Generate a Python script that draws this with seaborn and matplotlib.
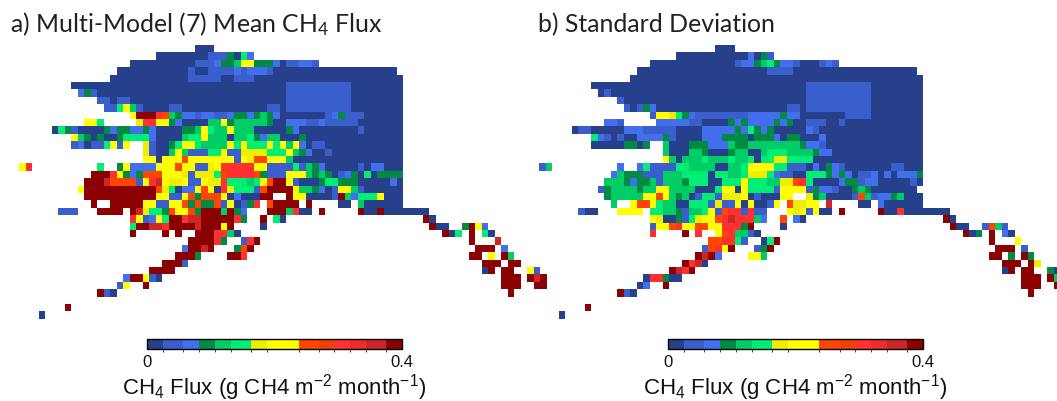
import re
import numpy as np
import pandas as pd
import seaborn as sns
import matplotlib.pyplot as plt
from matplotlib.colors import ListedColormap, BoundaryNorm

# colour classes of the flux scale (g CH4 m-2 month-1)
flux_bounds = [0, .026, .0575, .0826, .1072, .1318, .1631, .1882, .2379, .2693, .2928, .319, .3435, .3754, .4]
flux_colors = ['#27408B', '#3A5FCD', '#436EEE', '#008B45', '#00CD66', '#00EE76', '#EEEE00',
               '#FFFF00', '#FF4500', '#EE4000', '#FF3030', '#EE2C2C', '#CD2626', '#8B0000']
class_codes = 'abcdefghijklmn'

# map cells, row by row: @n jumps to column n, 3a = three cells of class a
mean_rows = [
    '@27 3a',
    '@21 8a 3b d a f c',
    '@17 10a 3b c 2d e 2h 3d c a 2b 2c b',
    '@15 11a b 2a 4b c b 3c b 19a',
    '@14 12a 5b 2a 3b 23a',
    '@8 33a 10b 8a',
    '@9 c d b 29a 10b 8a',
    '@12 2b a 2b 24a 10b 8a',
    '@13 2b f h e b 4a 2b 13a 2b a 10b 8a',
    '@17 h 3n k i e d 2c b 2c 2b c 2d c d e d c 7a b c d 3b 6a',
    '@10 2h f @18 g 2k 2h d c 4a 2e h d 5e d 2a 3c 2b c 5b 7a',
    '@5 a f d b 4a d c 2d 2c d c 4a 2d e h f 2e h 3e 4a a d c 9a b 6a',
    '@8 h e d a d 2a d 4f c 4a e 2f h 3e a 2e f d c 2e 3a d 15a',
    '@8 b c a 2b f h b h @19 g b 2a d f 2h f 4e h f h 3f h f h e h c a 2b 12a',
    '@19 g b 2a e h e 3b 2f h 2b 4g 3f h e d c 2a b 11a',
    '@19 2h a 3h i 7h b h g 2i 3h e 17a',
    '@0 h k @12 f @15 d h 4c 3h i 2h 2b g h 5k 2h 4b f b e d c 5a b a 2c 3a',
    '@11 3n k h d c d 3i 3h g b 3g f i 4k i d 3b 3h e d e d a b c d a f a 4d',
    '@10 3n m 4i b h k m h 2g h 2b h 2g k 3f e f h i 2n h b 3a d 2f 3d 5a c a',
    '@9 h 11n i g f a 2c h i h a k g 3f b i 4n h 2e d c a b 2h e b 6a',
    '@10 11n 2h 2b h i d 3i h a c 3a 2n @41 n 2h 4a b n e c 3f h 3a',
    '@11 n @14 5n 2h 2b 2h i d i 2d i b h a b d k @38 i 4n @44 n @49 2a @52 e 6a',
    '@6 3b @12 4n @17 n m g 2f d i 2h i d 3n e n d c @38 3n e k 2a @46 n @52 n 2a n 7a',
    '@17 k h b c h f 2n k 2m 5n k d @37 n @39 f a @62 n a',
    '@17 f 2n 2m k 4n m 3n h n @37 a @63 n 2a @68 d n h c',
    '@17 n @22 n @24 n @27 3n 2k e a @65 n a f @69 n @71 f a',
    '@26 4n k d @34 b k n @69 n @73 m',
    '@25 c 2n m n @33 d i n @70 3n @74 c',
    '@24 3n d @32 2n k @69 2n @72 h @74 n e',
    '@22 3n b @71 3n @75 2n',
    '@20 4n @71 a n @74 2n @78 h b',
    '@16 c 2n h b a @74 3n @78 n m n',
    '@15 b h @19 n @74 3n @79 2n',
    '@12 n b a @75 n',
    '',
    '@7 n',
    '@3 a',
]

std_rows = [
    '@27 3a',
    '@21 11a c a d b',
    '@17 13a b 2c d e f d 2c b 3a b c b',
    '@15 20a 4b 19a',
    '@14 45a',
    '@8 33a 10b 8a',
    '@9 a b 30a 10b 8a',
    '@12 b 28a 10b 8a',
    '@13 b a b d c 20a 2b a 10b 8a',
    '@17 b 2h g f d c 8b 5c d 2c 7a 4b 8a',
    '@10 2c b @18 5c 2b 4a d c d 4c d c d 2a 3b 2a b 12a',
    '@5 a 2b 5a 3c 5b 4a 5c d c f d c d 5a c b 16a',
    '@8 f c b a b 2a 4c d b 4a 3c 4d a 3d c a 2d a 2a c 15a',
    '@8 5a 2d a d @19 e 3a 3d 3c e 2d 8e d 2c b 15a',
    '@19 e 3a 2e d 3a d 2e 2a e 3f 4e d 2c 14a',
    '@19 h e a 3e f 3e f 2e f a 2f 2g 4f 17a',
    '@0 b e @12 c @15 c f 4b 2f 4e 2a 2e f 4h 2f 3b a c a d c b 7a 2b 3a',
    '@11 c e 3d 3b 3e 4f a 2f 2e f 3g f c 2b 2a 3f d c d c a 2b c a c a 3c d',
    '@10 3e d c 2d e b 3e d 3f 2a 3f h 3f 2e 2g i k f 4a c 2d b 2c 5a b a',
    '@9 b d 4e d 2e 2h 4e 3a f 2h a h 4f b 4h b d 2c b 2a d e d 7a',
    '@10 d 5e 2h i h e d e a b 2f b 3g h a b 3a 2h @41 g d e 4a b i e b 2c d e 3a',
    '@11 e @14 h 2i h f 2e 2a 3f b g 2b h a h 2a b h @38 i 2g 2h @44 m @49 2a @52 c 6a',
    '@6 b 2a @12 4h @17 2f 2e d b 2e f h b i 2k b k 2b @38 h g h b h 2a @46 n @52 n 2a k 7a',
    '@17 h g 2a d b f g 2h i k m 3k e c @37 i @39 c a @62 n a',
    '@17 b 2h i k 2h 2i 2h 3k d n @37 a @63 n 2a @68 b i e b',
    '@17 k @22 n @24 k @27 h i k 2e b a @65 n a d @69 n @71 c a',
    '@26 2i 2k f b @34 a f n @69 n @73 h',
    '@25 b i k h n @33 b d n @70 3n @74 b',
    '@24 n m n c @32 2h e @69 2n @72 d @74 n d',
    '@22 n k m a @71 3n @75 n g',
    '@20 n m k n @71 a n @74 2n @78 d a',
    '@16 a 2k d 2a @74 3n @78 n e',
    '@15 a c @19 n @74 3n @79 n',
    '@12 n b a @75 n',
    '',
    '@7 n',
    '@3 a',
]

titles = ['a) Multi-Model (7) Mean CH$_4$ Flux', 'b) Standard Deviation']
bar_label = 'CH$_4$ Flux (g CH4 m$^{-2}$ month$^{-1}$)'
bar_ticks = [0, 0.4]
n_cols = 81

mids = [(lo + hi) / 2 for lo, hi in zip(flux_bounds[:-1], flux_bounds[1:])]


def decode(rows):
    grid = np.full((len(rows), n_cols), np.nan)
    for r, row in enumerate(rows):
        col = 0
        for tok in row.split():
            if tok[0] == '@':
                col = int(tok[1:])
                continue
            m = re.fullmatch(r'(\d*)([a-n])', tok)
            n = int(m.group(1) or 1)
            grid[r, col:col + n] = mids[class_codes.index(m.group(2))]
            col += n
    return pd.DataFrame(grid)


sns.set_style('white')
plt.rcParams['font.family'] = ['Liberation Sans']
plt.rcParams['mathtext.default'] = 'regular'

W, H = 1057, 401
fig = plt.figure(figsize=(W / 100, H / 100), dpi=100)
cmap = ListedColormap(flux_colors)
norm = BoundaryNorm(flux_bounds, cmap.N)


def px_axes(x0, y0, x1, y1):
    return fig.add_axes([x0 / W, 1 - y1 / H, (x1 - x0) / W, (y1 - y0) / H])


panels = [(mean_rows, 19.0, 146.7, 10), (std_rows, 539.1, 667.5, 538)]
for (rows, map_x, bar_x, title_x), title in zip(panels, titles):
    ax = px_axes(map_x, 45, map_x + 527.7, 318.8)
    ax.patch.set_alpha(0)
    cax = px_axes(bar_x, 338.5, bar_x + 255.5, 348.5)
    sns.heatmap(decode(rows), ax=ax, cbar_ax=cax, cmap=cmap, norm=norm,
                xticklabels=False, yticklabels=False,
                cbar_kws={'orientation': 'horizontal', 'ticks': bar_ticks, 'spacing': 'proportional'})
    cb = ax.collections[0].colorbar
    cb.outline.set_linewidth(1.0)
    cb.outline.set_edgecolor('black')
    cb.ax.tick_params(length=0, labelsize=12, pad=4.5, colors='#111111')
    cb.ax.set_xticklabels(['0', '0.4'])
    cb.set_label(bar_label, fontsize=16, labelpad=1.5, color='#111111')
    fig.text(title_x / W, 1 - 32 / H, title, fontsize=17.9, family='Lato', color='#222222')

fig.savefig('out.png', dpi=100)
